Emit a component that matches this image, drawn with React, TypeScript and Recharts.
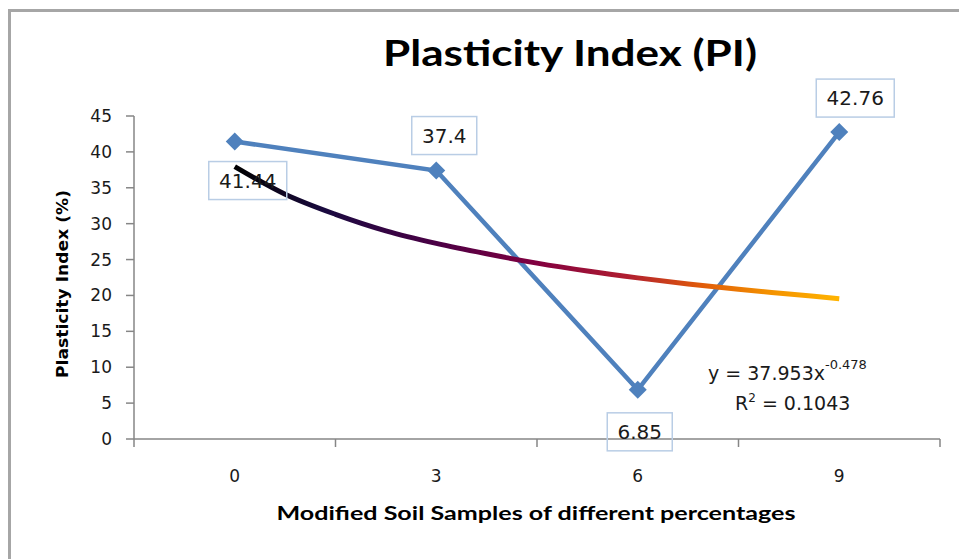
import React from 'react';
import { LineChart, Line, XAxis, YAxis, LabelList } from 'recharts';

// ---- data ----
const sampleX = [0, 3, 6, 9];
const sampleLabels = ['0', '3', '6', '9'];
const piValues = [41.44, 37.4, 6.85, 42.76];
const trendX = [0, 0.75, 1.5, 2.25, 3, 3.75, 4.5, 5.25, 6, 6.75, 7.5, 8.25, 9];
const trendY = [37.95, 34.1, 31.3, 29.0, 27.25, 25.8, 24.5, 23.4, 22.45, 21.6, 20.85, 20.2, 19.55];
const yTicks = [0, 5, 10, 15, 20, 25, 30, 35, 40, 45];
const xTickPositions = [-1.5, 0, 1.5, 3, 4.5, 6, 7.5, 9, 10.5];
const titleText = 'Plasticity Index (PI)';
const yTitle = 'Plasticity Index (%)';
const xTitle = 'Modified Soil Samples of different percentages';
const eqMain = 'y = 37.953x';
const eqExp = '-0.478';
const r2Text = '0.1043';

// ---- styling ----
const BLUE = '#4f81bd';
const AXIS = '#868686';
const NUM_FONT = '"DejaVu Sans", Verdana, sans-serif';
const TITLE_FONT = 'Lato, "Open Sans", sans-serif';
const labelOffsets: [number, number][] = [
  [13, 39],
  [8, -35],
  [2, 42],
  [16, -34],
];

const piData = sampleX.map((x, i) => ({ x, pi: piValues[i] }));
const trendData = trendX.map((x, i) => ({ x, trend: trendY[i] }));

const Diamond = (props: any) => {
  const { cx, cy } = props;
  if (cx == null || cy == null) return null;
  const r = 9;
  return (
    <polygon
      points={`${cx},${cy - r} ${cx + r},${cy} ${cx},${cy + r} ${cx - r},${cy}`}
      fill={BLUE}
    />
  );
};

const PiLabel = (props: any) => {
  const { x, y, index, value } = props;
  const [dx, dy] = labelOffsets[index] || [0, -30];
  const cx = x + dx;
  const cy = y + dy;
  const txt = String(value);
  const w = 13 * txt.length + 13;
  const h = 38;
  return (
    <g>
      <rect x={cx - w / 2} y={cy - h / 2} width={w} height={h} fill="none" stroke="#b9cde5" strokeWidth={1.5} />
      <text x={cx} y={cy + 7} textAnchor="middle" fontFamily={NUM_FONT} fontSize={20} fill="#1a1a1a">
        {txt}
      </text>
    </g>
  );
};

const XTick = (props: any) => {
  const { x, y, payload } = props;
  const idx = sampleX.indexOf(payload.value);
  if (idx >= 0) {
    return (
      <text x={x} y={y + 43} textAnchor="middle" fontFamily={NUM_FONT} fontSize={17} fill="#1a1a1a">
        {sampleLabels[idx]}
      </text>
    );
  }
  return <line x1={x} x2={x} y1={y} y2={y + 8} stroke={AXIS} strokeWidth={1.5} />;
};

const YTick = (props: any) => {
  const { x, y, payload } = props;
  return (
    <g>
      <line x1={x - 8} x2={x} y1={y} y2={y} stroke={AXIS} strokeWidth={1.5} />
      <text x={x - 22} y={y + 6} textAnchor="end" fontFamily={NUM_FONT} fontSize={17} fill="#1a1a1a">
        {payload.value}
      </text>
    </g>
  );
};

export default function App() {
  return (
    <div style={{ position: 'absolute', left: 0, top: 0, width: 959, height: 559, background: '#fff', overflow: 'hidden' }}>
      <div
        style={{
          position: 'absolute',
          left: 8,
          top: 9,
          width: 970,
          height: 547,
          borderLeft: '3px solid #a6a6a6',
          borderTop: '3px solid #a6a6a6',
          borderBottom: '1px solid #e4e4e4',
        }}
      />
      <div style={{ position: 'absolute', left: 0, top: 0 }}>
        <LineChart width={959} height={559} margin={{ top: 116, right: 19, bottom: 119, left: 133 }}>
          <defs>
            <linearGradient id="trendGrad" x1="0" y1="0" x2="1" y2="0">
              <stop offset="0%" stopColor="#000000" />
              <stop offset="15%" stopColor="#1a0a40" />
              <stop offset="33%" stopColor="#4a0045" />
              <stop offset="50%" stopColor="#820040" />
              <stop offset="65%" stopColor="#b01e30" />
              <stop offset="77%" stopColor="#e05a0a" />
              <stop offset="88%" stopColor="#f39000" />
              <stop offset="100%" stopColor="#ffb400" />
            </linearGradient>
          </defs>
          <XAxis
            dataKey="x"
            type="number"
            domain={[-1.5, 10.5]}
            ticks={xTickPositions}
            interval={0}
            height={1}
            tickSize={0}
            tickMargin={0}
            tickLine={false}
            axisLine={{ stroke: AXIS, strokeWidth: 1.5 }}
            tick={<XTick />}
            allowDataOverflow
          />
          <YAxis
            type="number"
            domain={[0, 45]}
            ticks={yTicks}
            interval={0}
            width={1}
            tickSize={0}
            tickMargin={0}
            tickLine={false}
            axisLine={{ stroke: AXIS, strokeWidth: 1.5 }}
            tick={<YTick />}
          />
          <Line
            data={piData}
            dataKey="pi"
            type="linear"
            stroke={BLUE}
            strokeWidth={4.5}
            dot={<Diamond />}
            activeDot={false}
            isAnimationActive={false}
          >
            <LabelList dataKey="pi" content={<PiLabel />} />
          </Line>
          <Line
            data={trendData}
            dataKey="trend"
            type="monotone"
            stroke="url(#trendGrad)"
            strokeWidth={5}
            dot={false}
            activeDot={false}
            isAnimationActive={false}
          />
        </LineChart>
      </div>
      <svg width={959} height={559} style={{ position: 'absolute', left: 0, top: 0, pointerEvents: 'none' }}>
        <text x={570} y={66} textAnchor="middle" fontFamily={TITLE_FONT} fontWeight="bold" fontSize={36} textLength={374} lengthAdjust="spacingAndGlyphs" fill="#000">
          {titleText}
        </text>
        <text
          x={0}
          y={0}
          transform="translate(68,284) rotate(-90)"
          textAnchor="middle"
          fontFamily={NUM_FONT}
          fontWeight="bold"
          fontSize={15}
          textLength={188}
          lengthAdjust="spacingAndGlyphs"
          fill="#000"
        >
          {yTitle}
        </text>
        <text x={536} y={520} textAnchor="middle" fontFamily={TITLE_FONT} fontWeight="bold" fontSize={19} textLength={519} lengthAdjust="spacingAndGlyphs" fill="#000">
          {xTitle}
        </text>
        <text x={708} y={380} fontFamily={NUM_FONT} fontSize={19} fill="#1a1a1a">
          {eqMain}
          <tspan dy={-11} fontSize={13}>{eqExp}</tspan>
        </text>
        <text x={735} y={410} fontFamily={NUM_FONT} fontSize={19} fill="#1a1a1a">
          R<tspan dy={-8} fontSize={12}>2</tspan>
          <tspan dy={8}> = {r2Text}</tspan>
        </text>
      </svg>
    </div>
  );
}
